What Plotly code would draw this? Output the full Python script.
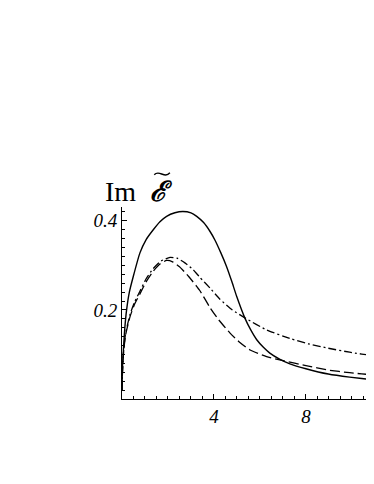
import plotly.graph_objects as go

# Solid curve
solid_x = [0, 0.02, 0.06, 0.12, 0.2, 0.32, 0.49, 0.78, 1.05, 1.36, 1.65, 1.94, 2.3, 2.64, 3.0, 3.25, 3.55, 3.83, 4.04, 4.3, 4.55, 4.78, 4.99, 5.35, 5.6, 5.86, 6.15, 6.43, 6.87, 7.3, 8.0, 8.97, 9.9, 10.96, 11.5]
solid_y = [0.02, 0.07, 0.11, 0.158, 0.2, 0.24, 0.275, 0.328, 0.358, 0.38, 0.398, 0.41, 0.418, 0.421, 0.418, 0.41, 0.396, 0.376, 0.357, 0.328, 0.297, 0.263, 0.23, 0.181, 0.155, 0.133, 0.116, 0.103, 0.089, 0.079, 0.068, 0.056, 0.049, 0.043, 0.041]

# Dash-dot curve
dashdot_x = [0, 0.02, 0.06, 0.15, 0.35, 0.55, 0.78, 1.05, 1.36, 1.7, 2.09, 2.4, 2.75, 3.1, 3.39, 3.83, 4.26, 4.8, 5.38, 6.29, 7.3, 8.1, 8.97, 9.9, 10.96, 11.5]
dashdot_y = [0.02, 0.06, 0.1, 0.145, 0.19, 0.218, 0.242, 0.27, 0.293, 0.31, 0.318, 0.316, 0.305, 0.29, 0.273, 0.249, 0.224, 0.2, 0.181, 0.155, 0.136, 0.124, 0.114, 0.105, 0.097, 0.093]

# Dashed curve
dashed_x = [0, 0.02, 0.06, 0.15, 0.35, 0.55, 0.78, 1.05, 1.36, 1.65, 1.94, 2.2, 2.5, 2.9, 3.39, 3.83, 4.2, 4.7, 5.1, 5.57, 6.29, 7.01, 8.0, 8.97, 9.9, 10.96, 11.5]
dashed_y = [0.02, 0.06, 0.1, 0.142, 0.185, 0.213, 0.236, 0.263, 0.287, 0.303, 0.311, 0.308, 0.297, 0.275, 0.243, 0.205, 0.178, 0.148, 0.128, 0.11, 0.095, 0.086, 0.075, 0.065, 0.059, 0.054, 0.052]

x_tickvals = [4, 8]
x_ticktext = ["<i>4</i>", "<i>8</i>"]
y_tickvals = [0.2, 0.4]
y_ticktext = ["<i>0.2</i>", "<i>0.4</i>"]
label_im = "Im"
label_e = "<b><i>\u2130</i></b>"

serif = "Liberation Serif, DejaVu Serif, serif"

fig = go.Figure()
fig.add_trace(go.Scatter(x=solid_x, y=solid_y, mode="lines", line=dict(color="black", width=1.4, shape="spline", smoothing=0.5)))
fig.add_trace(go.Scatter(x=dashdot_x, y=dashdot_y, mode="lines", line=dict(color="black", width=1.3, shape="spline", smoothing=0.5, dash="8px,3px,2px,3px")))
fig.add_trace(go.Scatter(x=dashed_x, y=dashed_y, mode="lines", line=dict(color="black", width=1.3, shape="spline", smoothing=0.5, dash="10px,4px")))

fig.update_layout(
    width=366, height=468,
    margin=dict(l=114, r=0, t=199, b=77),
    paper_bgcolor="white", plot_bgcolor="white",
    showlegend=False,
    font=dict(family=serif, color="black", size=17),
    xaxis=dict(range=[0, 10.96], showgrid=False, zeroline=False, showline=True, linecolor="black", linewidth=1,
               tickvals=x_tickvals, ticktext=x_ticktext, ticks="inside", ticklen=5, tickcolor="black",
               minor=dict(dtick=0.5, tick0=0, ticks="inside", ticklen=3, tickcolor="black"),
               tickfont=dict(family=serif, size=19)),
    yaxis=dict(range=[0, 0.431], showgrid=False, zeroline=False, showline=True, linecolor="black", linewidth=1,
               tickvals=y_tickvals, ticktext=y_ticktext, ticks="inside", ticklen=5, tickcolor="black",
               minor=dict(dtick=0.02, tick0=0, ticks="inside", ticklen=3, tickcolor="black"),
               tickfont=dict(family=serif, size=19)),
)

fig.add_annotation(text=label_im, xref="paper", yref="paper", x=-0.075, y=1.08,
                   xanchor="left", yanchor="middle", showarrow=False,
                   font=dict(family=serif, size=28, color="black"))
fig.add_annotation(text=label_e, xref="paper", yref="paper", x=0.155, y=1.08,
                   xanchor="center", yanchor="middle", showarrow=False,
                   font=dict(family=serif, size=28, color="black"))
# tilde accent drawn above the script E
fig.add_shape(type="path", xref="paper", yref="paper",
              path="M 0.128,1.168 C 0.148,1.198 0.168,1.144 0.19,1.178",
              line=dict(color="black", width=1.4))

fig.write_html("out.html")
